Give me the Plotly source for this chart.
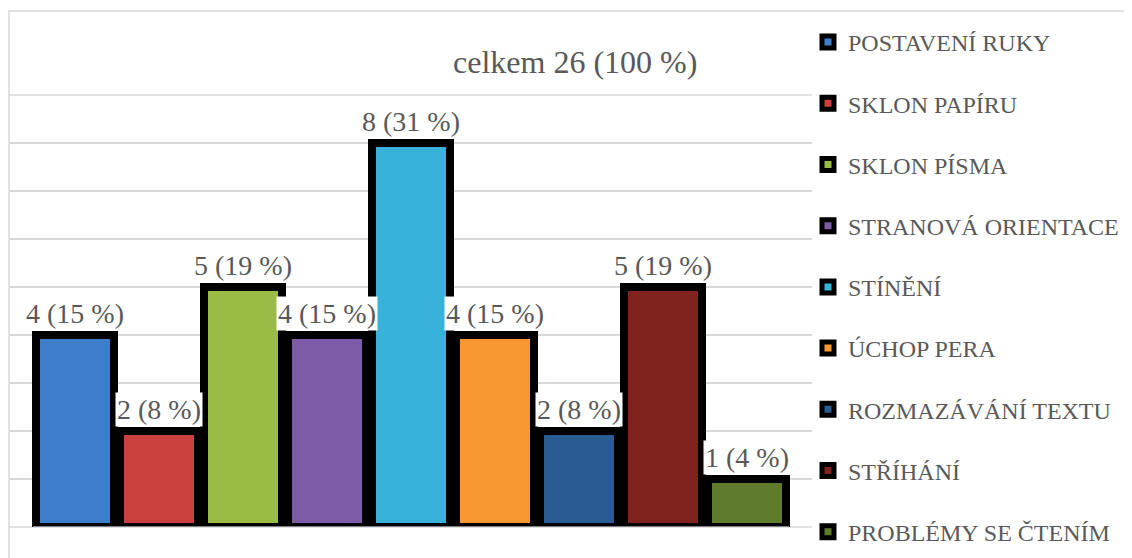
import plotly.graph_objects as go

categories = ["POSTAVENÍ RUKY", "SKLON PAPÍRU", "SKLON PÍSMA", "STRANOVÁ ORIENTACE",
              "STÍNĚNÍ", "ÚCHOP PERA", "ROZMAZÁVÁNÍ TEXTU", "STŘÍHÁNÍ", "PROBLÉMY SE ČTENÍM"]
counts = [4, 2, 5, 4, 8, 4, 2, 5, 1]
percents = [15, 8, 19, 15, 31, 15, 8, 19, 4]
colors = ["#3D7DCA", "#CA403D", "#9BBB47", "#7D5BA6", "#38B2D9",
          "#F89631", "#2B5B93", "#80231F", "#5F7B2C"]
total_label = "celkem 26 (100 %)"

# page body has an 8px margin; positions below are in figure pixels
W, H = 1132, 558
L, R, T, B = 1, 328, 87, 39
pw, ph = W - L - R, H - T - B
font_family = "Liberation Serif"
gray = "#595959"

fig = go.Figure()
for i, (c, v, col) in enumerate(zip(categories, counts, colors)):
    fig.add_trace(go.Bar(
        x=[c], y=[v], name=c, width=0.917,
        marker=dict(color=col, line=dict(color="black", width=8)),
        legendgroup=f"g{i}", hoverinfo="skip",
    ))

for c, v, p in zip(categories, counts, percents):
    fig.add_annotation(x=c, y=v, xref="x", yref="y", text=f"{v} ({p} %)",
                       showarrow=False, xanchor="center", yanchor="bottom",
                       yshift=4, bgcolor="white", borderpad=1,
                       font=dict(family=font_family, size=28, color=gray))

cat_px = 84
left_extra = 24 / cat_px
right_extra = 23 / cat_px

fig.update_layout(
    width=W, height=H, margin=dict(l=L, r=R, t=T, b=B, autoexpand=False),
    paper_bgcolor="white", plot_bgcolor="white",
    barmode="overlay", bargap=0,
    font=dict(family=font_family, color=gray),
    xaxis=dict(type="category", categoryorder="array", categoryarray=categories,
               range=[-0.5 - left_extra, len(categories) - 0.5 + right_extra],
               showticklabels=False, showgrid=False, zeroline=False, showline=False,
               fixedrange=True),
    yaxis=dict(range=[0, 9], dtick=1, showticklabels=False, showgrid=True,
               gridcolor="#D9D9D9", gridwidth=1.5, zeroline=False, showline=False,
               fixedrange=True),
    legend=dict(x=(800 - L) / pw, xanchor="left", y=1 + (T - 12) / ph, yanchor="top",
                font=dict(family=font_family, size=24, color=gray),
                tracegroupgap=27, bgcolor="rgba(0,0,0,0)", traceorder="grouped",
                maxheight=700),
    showlegend=True,
)

fig.add_shape(type="rect", xref="x domain", yref="y domain",
              x0=0, x1=2, y0=-1, y1=(519 - 3) / ph,
              line=dict(color="#D9D9D9", width=1.5), layer="below")
for yy in (0, 1):
    fig.add_shape(type="line", xref="x domain", yref="y domain",
                  x0=0, x1=1, y0=yy, y1=yy,
                  line=dict(color="#D9D9D9", width=1.5), layer="below")
fig.add_shape(type="line", xref="x", yref="y",
              x0=-0.5, x1=len(categories) - 0.5, y0=0, y1=0,
              line=dict(color="#808080", width=2))
fig.add_annotation(text=total_label, xref="x domain", yref="y domain",
                   x=(567 - L) / pw, y=(519 - 54) / ph, showarrow=False,
                   xanchor="center", yanchor="middle",
                   font=dict(family=font_family, size=32, color=gray))

fig.write_html("out.html")
